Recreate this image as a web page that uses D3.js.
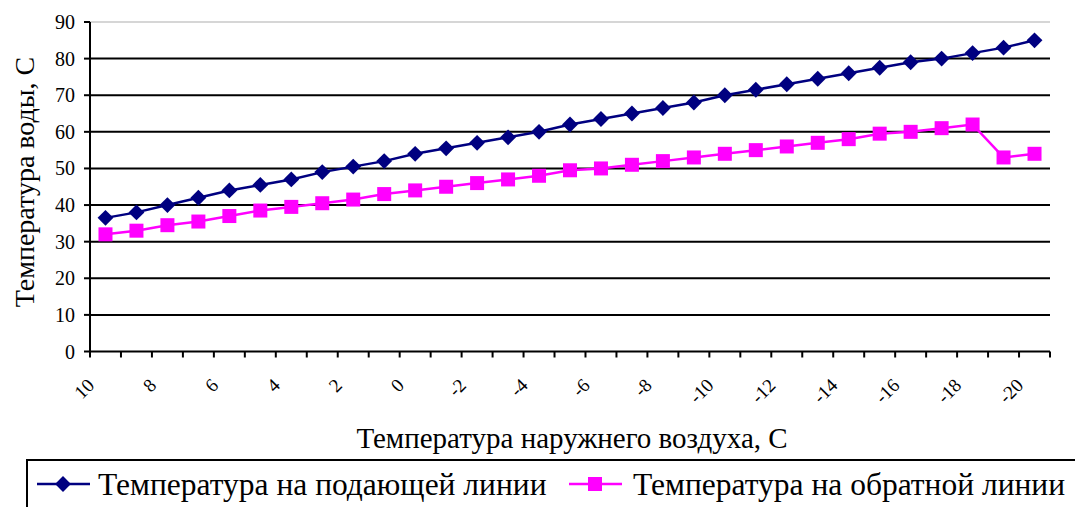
<!DOCTYPE html>
<html>
<head>
<meta charset="utf-8">
<script src="https://cdn.jsdelivr.net/npm/d3@7"></script>
<style>
  html, body { margin: 0; padding: 0; background: #fff; }
  svg text { font-family: "Liberation Serif", "DejaVu Serif", "Times New Roman", serif; }
</style>
</head>
<body>
<div id="chart"></div>
<script>
// Outdoor air temperature categories (left to right)
const outdoorTemps = [10, 9, 8, 7, 6, 5, 4, 3, 2, 1, 0, -1, -2, -3, -4, -5, -6, -7, -8, -9,
  -10, -11, -12, -13, -14, -15, -16, -17, -18, -19, -20];

// Every second category gets a label
const xTickLabels = [10, 8, 6, 4, 2, 0, -2, -4, -6, -8, -10, -12, -14, -16, -18, -20];

// Water temperature in the supply line
const supplyTemps = [36.5, 38, 40, 42, 44, 45.5, 47, 49, 50.5, 52, 54, 55.5, 57, 58.5, 60, 62,
  63.5, 65, 66.5, 68, 70, 71.5, 73, 74.5, 76, 77.5, 79, 80, 81.5, 83, 85];

// Water temperature in the return line
const returnTemps = [32, 33, 34.5, 35.5, 37, 38.5, 39.5, 40.5, 41.5, 43, 44, 45, 46, 47, 48, 49.5,
  50, 51, 52, 53, 54, 55, 56, 57, 58, 59.5, 60, 61, 62, 53, 54];

const yTicks = [0, 10, 20, 30, 40, 50, 60, 70, 80, 90];

const seriesNames = ['Температура на подающей линии', 'Температура на обратной линии'];

const width = 1075;
const height = 507;
const plot = { left: 90, right: 1050, top: 22, bottom: 351.5 };
const serif = '"Liberation Serif", "DejaVu Serif", "Times New Roman", serif';

const svg = d3.select('#chart')
  .append('svg')
  .attr('width', width)
  .attr('height', height)
  .attr('font-family', serif);

const x = d3.scaleBand()
  .domain(outdoorTemps)
  .range([plot.left, plot.right])
  .padding(0);

const y = d3.scaleLinear()
  .domain([0, 90])
  .range([plot.bottom, plot.top]);

const cx = d => x(d) + x.bandwidth() / 2;

// Gridlines (top one is light gray)
svg.append('g')
  .selectAll('line')
  .data(yTicks.filter(t => t > 0))
  .enter()
  .append('line')
  .attr('x1', plot.left)
  .attr('x2', plot.right)
  .attr('y1', d => y(d))
  .attr('y2', d => y(d))
  .attr('stroke', d => d === 90 ? '#c8c8c8' : '#000')
  .attr('stroke-width', d => d === 90 ? 1.5 : 2);

// Y axis
const yAxis = svg.append('g');
yAxis.append('line')
  .attr('x1', plot.left).attr('x2', plot.left)
  .attr('y1', plot.top).attr('y2', plot.bottom)
  .attr('stroke', '#000').attr('stroke-width', 2);
yAxis.selectAll('line.tick')
  .data(yTicks)
  .enter()
  .append('line')
  .attr('class', 'tick')
  .attr('x1', plot.left - 6).attr('x2', plot.left)
  .attr('y1', d => y(d)).attr('y2', d => y(d))
  .attr('stroke', '#000').attr('stroke-width', 2);
yAxis.selectAll('text')
  .data(yTicks)
  .enter()
  .append('text')
  .attr('x', plot.left - 15)
  .attr('y', d => y(d) + 7)
  .attr('text-anchor', 'end')
  .attr('font-size', 20)
  .text(d => d);

// X axis with ticks between categories
const xAxis = svg.append('g');
xAxis.append('line')
  .attr('x1', plot.left).attr('x2', plot.right)
  .attr('y1', plot.bottom).attr('y2', plot.bottom)
  .attr('stroke', '#000').attr('stroke-width', 2);
const boundaries = outdoorTemps.map(d => x(d)).concat([x(outdoorTemps[outdoorTemps.length - 1]) + x.bandwidth()]);
xAxis.selectAll('line.tick')
  .data(boundaries)
  .enter()
  .append('line')
  .attr('class', 'tick')
  .attr('x1', d => d).attr('x2', d => d)
  .attr('y1', plot.bottom).attr('y2', plot.bottom + 6)
  .attr('stroke', '#000').attr('stroke-width', 2);
xAxis.selectAll('text')
  .data(xTickLabels)
  .enter()
  .append('text')
  .attr('text-anchor', 'end')
  .attr('font-size', 19)
  .attr('transform', d => `translate(${cx(d) - 10},${plot.bottom + 35}) rotate(-45)`)
  .text(d => d);

// Axis titles
svg.append('text')
  .attr('transform', 'translate(34,182) rotate(-90)')
  .attr('text-anchor', 'middle')
  .attr('font-size', 28)
  .text('Температура воды, С');

svg.append('text')
  .attr('x', 572)
  .attr('y', 448)
  .attr('text-anchor', 'middle')
  .attr('font-size', 29)
  .text('Температура наружнего воздуха, С');

// Series
const line = d3.line()
  .x((d, i) => cx(outdoorTemps[i]))
  .y(d => y(d));

const diamond = d3.symbol().type(d3.symbolDiamond2).size(160);

svg.append('path')
  .datum(supplyTemps)
  .attr('d', line)
  .attr('fill', 'none')
  .attr('stroke', '#000080')
  .attr('stroke-width', 2.5);

svg.append('path')
  .datum(returnTemps)
  .attr('d', line)
  .attr('fill', 'none')
  .attr('stroke', '#ff00ff')
  .attr('stroke-width', 2.5);

svg.append('g')
  .selectAll('path')
  .data(supplyTemps)
  .enter()
  .append('path')
  .attr('d', diamond)
  .attr('transform', (d, i) => `translate(${cx(outdoorTemps[i])},${y(d)})`)
  .attr('fill', '#000080');

const sq = 14;
svg.append('g')
  .selectAll('rect')
  .data(returnTemps)
  .enter()
  .append('rect')
  .attr('x', (d, i) => cx(outdoorTemps[i]) - sq / 2)
  .attr('y', d => y(d) - sq / 2)
  .attr('width', sq)
  .attr('height', sq)
  .attr('fill', '#ff00ff');

// Legend
const legend = svg.append('g');
legend.append('rect')
  .attr('x', 27).attr('y', 460)
  .attr('width', 1100).attr('height', 100)
  .attr('fill', 'none')
  .attr('stroke', '#000').attr('stroke-width', 2);

const legendY = 484;
legend.append('line')
  .attr('x1', 37).attr('x2', 90)
  .attr('y1', legendY).attr('y2', legendY)
  .attr('stroke', '#000080').attr('stroke-width', 2.5);
legend.append('path')
  .attr('d', diamond)
  .attr('transform', `translate(63,${legendY})`)
  .attr('fill', '#000080');
legend.append('text')
  .attr('x', 98).attr('y', legendY + 11)
  .attr('font-size', 31.5)
  .text(seriesNames[0]);

legend.append('line')
  .attr('x1', 569).attr('x2', 622)
  .attr('y1', legendY).attr('y2', legendY)
  .attr('stroke', '#ff00ff').attr('stroke-width', 2.5);
legend.append('rect')
  .attr('x', 595 - sq / 2).attr('y', legendY - sq / 2)
  .attr('width', sq).attr('height', sq)
  .attr('fill', '#ff00ff');
legend.append('text')
  .attr('x', 633).attr('y', legendY + 11)
  .attr('font-size', 31.5)
  .text(seriesNames[1]);
</script>
</body>
</html>
